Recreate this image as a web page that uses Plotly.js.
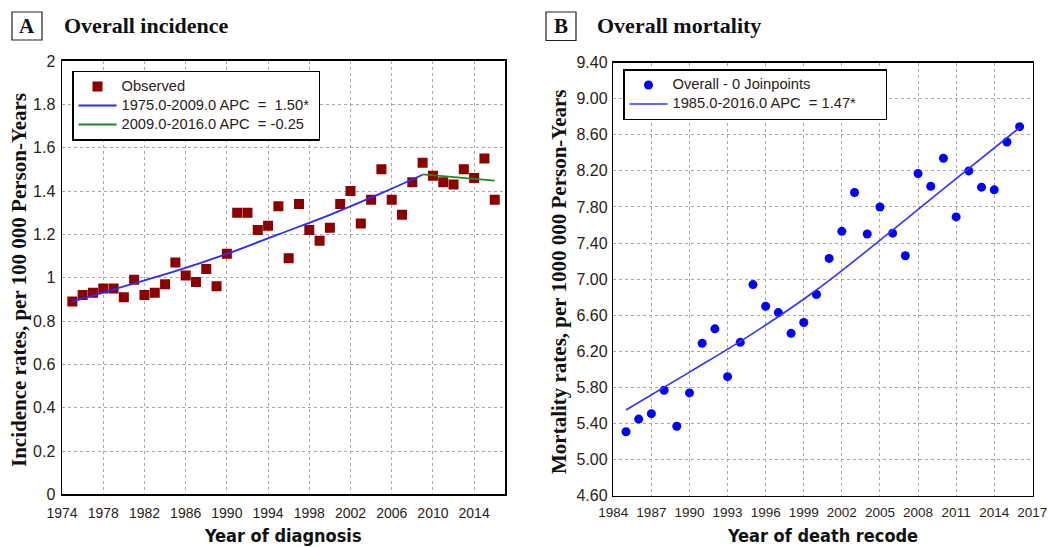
<!DOCTYPE html>
<html>
<head>
<meta charset="utf-8">
<script src="https://cdn.plot.ly/plotly-3.0.1.min.js"></script>
<style>html,body{margin:0;padding:0;background:#fff;}#chart{width:1048px;height:547px;}</style>
</head>
<body>
<div id="chart"></div>
<script>
// Panel A: overall incidence
const yearsA = [1975,1976,1977,1978,1979,1980,1981,1982,1983,1984,1985,1986,1987,1988,1989,1990,1991,1992,1993,1994,1995,1996,1997,1998,1999,2000,2001,2002,2003,2004,2005,2006,2007,2008,2009,2010,2011,2012,2013,2014,2015,2016];
const incidence = [0.89,0.92,0.93,0.95,0.95,0.91,0.99,0.92,0.93,0.97,1.07,1.01,0.98,1.04,0.96,1.11,1.30,1.30,1.22,1.24,1.33,1.09,1.34,1.22,1.17,1.23,1.34,1.40,1.25,1.36,1.50,1.36,1.29,1.44,1.53,1.47,1.44,1.43,1.50,1.46,1.55,1.36];
const fitA1Years = [1975,1980,1985,1990,1995,2000,2005,2009];
const fitA1 = [0.89,0.96,1.03,1.11,1.20,1.29,1.39,1.475];
const fitA2Years = [2009,2016];
const fitA2 = [1.477,1.448];
const tickYearsA = [1974,1978,1982,1986,1990,1994,1998,2002,2006,2010,2014];
const tickValsA = [0,0.2,0.4,0.6,0.8,1,1.2,1.4,1.6,1.8,2];

// Panel B: overall mortality
const yearsB = [1985,1986,1987,1988,1989,1990,1991,1992,1993,1994,1995,1996,1997,1998,1999,2000,2001,2002,2003,2004,2005,2006,2007,2008,2009,2010,2011,2012,2013,2014,2015,2016];
const mortality = [5.31,5.45,5.51,5.77,5.37,5.74,6.29,6.45,5.92,6.30,6.94,6.70,6.63,6.40,6.52,6.83,7.23,7.53,7.96,7.50,7.80,7.51,7.26,8.17,8.03,8.34,7.69,8.20,8.02,7.99,8.52,8.69];
const fitBYears = [1985,1990,1995,2000,2005,2010,2016];
const fitB = [5.55,5.97,6.40,6.88,7.43,8.00,8.68];
const tickYearsB = [1984,1987,1990,1993,1996,1999,2002,2005,2008,2011,2014,2017];
const tickValsB = [4.6,5.0,5.4,5.8,6.2,6.6,7.0,7.4,7.8,8.2,8.6,9.0,9.4];

const labelsA = ["Observed","1975.0-2009.0 APC&nbsp; = &nbsp;1.50*","2009.0-2016.0 APC&nbsp; = -0.25"];
const labelsB = ["Overall - 0 Joinpoints","1985.0-2016.0 APC&nbsp; = 1.47*"];

const tickColor = '#2a2218';
const sansFont = 'Liberation Sans, Arial, sans-serif';
const serifFont = 'Liberation Serif, Times New Roman, serif';
const titleSans = 'DejaVu Sans Condensed, DejaVu Sans, sans-serif';

function legendLabel(t, pad) {
  return '<span style="font-size:14.7px">' + t + '&nbsp;'.repeat(pad) + '</span>';
}

const traces = [
  {x: yearsA, y: incidence, type:'scatter', mode:'markers', name: legendLabel(labelsA[0], 0),
   marker:{symbol:'square', size:10, color:'#8b0000'}, xaxis:'x', yaxis:'y', legend:'legend'},
  {x: fitA1Years, y: fitA1, type:'scatter', mode:'lines', name: legendLabel(labelsA[1], 1),
   line:{color:'#2b2bff', width:1.8, shape:'spline'}, xaxis:'x', yaxis:'y', legend:'legend'},
  {x: fitA2Years, y: fitA2, type:'scatter', mode:'lines', name: legendLabel(labelsA[2], 0),
   line:{color:'#1f8a1f', width:1.8}, xaxis:'x', yaxis:'y', legend:'legend'},
  {x: yearsB, y: mortality, type:'scatter', mode:'markers', name: legendLabel(labelsB[0], 0),
   marker:{symbol:'circle', size:9, color:'#0000ff'}, xaxis:'x2', yaxis:'y2', legend:'legend2'},
  {x: fitBYears, y: fitB, type:'scatter', mode:'lines', name: legendLabel(labelsB[1], 6),
   line:{color:'#3333ff', width:1.6, shape:'spline'}, xaxis:'x2', yaxis:'y2', legend:'legend2'}
];

function axisBase() {
  return {
    showline:true, mirror:true, linecolor:'#000', linewidth:1.5,
    showgrid:true, gridcolor:'#a8a8a8', griddash:'dot', gridwidth:1,
    zeroline:false, ticks:'', fixedrange:true, ticklabeloverflow:'allow'
  };
}

function legendBase(x, y) {
  return {x:x, y:y, xanchor:'left', yanchor:'top',
    bgcolor:'#fff', bordercolor:'#000', borderwidth:1.5,
    font:{family:sansFont, size:11, color:'#2a2218'}, itemwidth:38, tracegroupgap:0};
}

function ann(text, xpx, ypx, size, family, extra) {
  return Object.assign({text:text, xref:'paper', yref:'paper', x:xpx/1048, y:1-ypx/547,
    xanchor:'center', yanchor:'middle', showarrow:false,
    font:{family:family, size:size, color:'#111'}}, extra || {});
}

const layout = {
  width:1048, height:547,
  margin:{l:0,r:0,t:0,b:0},
  paper_bgcolor:'#ffffff', plot_bgcolor:'#ffffff',
  showlegend:true,
  xaxis: Object.assign(axisBase(), {
    domain:[0.0592,0.4819], range:[1974,2017], tickvals:tickYearsA,
    tickfont:{family:sansFont, size:14, color:tickColor}, ticklabelstandoff:5, anchor:'y'
  }),
  yaxis: Object.assign(axisBase(), {
    domain:[0.0962,0.8885], range:[0,2], tickvals:tickValsA,
    tickfont:{family:sansFont, size:16, color:tickColor}, ticklabelstandoff:2, anchor:'x'
  }),
  xaxis2: Object.assign(axisBase(), {
    domain:[0.5852,0.9854], range:[1984,2017.03], tickvals:tickYearsB,
    tickfont:{family:sansFont, size:13.5, color:tickColor}, ticklabelstandoff:3, anchor:'y2'
  }),
  yaxis2: Object.assign(axisBase(), {
    domain:[0.0936,0.8856], range:[4.6,9.4], tickvals:tickValsB, tickformat:'.2f',
    tickfont:{family:sansFont, size:16, color:tickColor}, ticklabelstandoff:1, anchor:'x2'
  }),
  legend: legendBase(72/1048, 1-70.5/547),
  legend2: legendBase(623/1048, 1-69/547),
  shapes:[
    {type:'rect', xref:'paper', yref:'paper', x0:12/1048, x1:42/1048, y0:1-40/547, y1:1-12/547,
     line:{color:'#222', width:1.2}, fillcolor:'rgba(0,0,0,0)'},
    {type:'rect', xref:'paper', yref:'paper', x0:546/1048, x1:576/1048, y0:1-40.5/547, y1:1-12/547,
     line:{color:'#222', width:1.2}, fillcolor:'rgba(0,0,0,0)'}
  ],
  annotations:[
    ann('<b>A</b>', 27, 26, 21, serifFont),
    ann('<b>Overall incidence</b>', 62, 26, 22, serifFont, {xanchor:'left'}),
    ann('<b>B</b>', 561, 26, 21, serifFont),
    ann('<b>Overall mortality</b>', 595, 26, 22, serifFont, {xanchor:'left'}),
    ann('<b>Incidence rates, per 100 000 Person-Years</b>', 19, 280, 21, serifFont, {textangle:-90}),
    ann('<b>Mortality rates, per 1000 000 Person-Years</b>', 559, 282, 21, serifFont, {textangle:-90}),
    ann('<b>Year of diagnosis</b>', 283, 535, 18, titleSans),
    ann('<b>Year of death recode</b>', 822, 535, 18, titleSans)
  ]
};

Plotly.newPlot('chart', traces, layout, {staticPlot:true, displayModeBar:false});
</script>
</body>
</html>
